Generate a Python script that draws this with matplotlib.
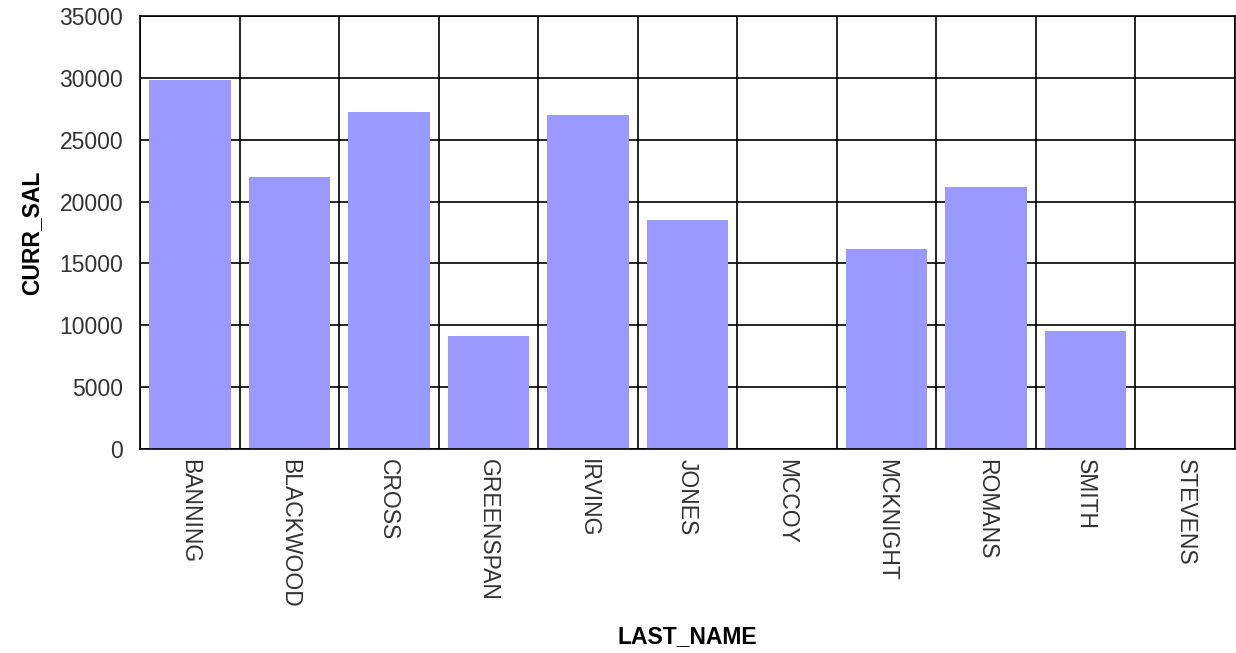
import numpy as np
import matplotlib
matplotlib.use('Agg')
import matplotlib.pyplot as plt

# DATA
last_names = ['BANNING', 'BLACKWOOD', 'CROSS', 'GREENSPAN', 'IRVING', 'JONES',
              'MCCOY', 'MCKNIGHT', 'ROMANS', 'SMITH', 'STEVENS']
curr_sal = [29800, 21950, 27200, 9150, 27000, 18500, 0, 16150, 21200, 9550, 0]
y_ticks = [0, 5000, 10000, 15000, 20000, 25000, 30000, 35000]

plt.rcParams['font.family'] = ['Liberation Sans', 'DejaVu Sans']

fig = plt.figure(figsize=(12.36, 6.53), dpi=100)
ax = fig.add_axes([140 / 1236, 204 / 653, 1095 / 1236, 433 / 653])

x = np.arange(len(last_names))
ax.bar(x, curr_sal, width=0.82, color='#9999ff', zorder=2)

# grid: horizontal at y ticks, vertical at category boundaries
ax.set_xlim(-0.5, len(last_names) - 0.5)
ax.set_ylim(0, 35000)
ax.set_yticks(y_ticks)
ax.set_xticks(x)
ax.set_xticklabels(last_names, rotation=270, ha='center', va='top')
ax.set_xticks(np.arange(-0.5, len(last_names)), minor=True)
ax.set_axisbelow(True)
ax.grid(axis='y', color='black', linewidth=1.2, zorder=1)
ax.grid(axis='x', which='minor', color='black', linewidth=1.2, zorder=1)
ax.tick_params(axis='both', which='both', length=0)
ax.tick_params(axis='y', pad=12, labelsize=16.5, labelcolor='#333333')
ax.tick_params(axis='x', pad=7, labelsize=16.5, labelcolor='#333333')

for s in ax.spines.values():
    s.set_linewidth(1.2)
    s.set_color('black')

ax.set_xlabel('LAST_NAME', fontsize=16.5, fontweight='bold')
ax.xaxis.set_label_coords((687 - 140) / 1095, -(625 - 449) / 433)
ax.set_ylabel('CURR_SAL', fontsize=16.5, fontweight='bold')
ax.yaxis.set_label_coords(-(140 - 43) / 1095, 0.5)

fig.savefig('out.png', dpi=100)
